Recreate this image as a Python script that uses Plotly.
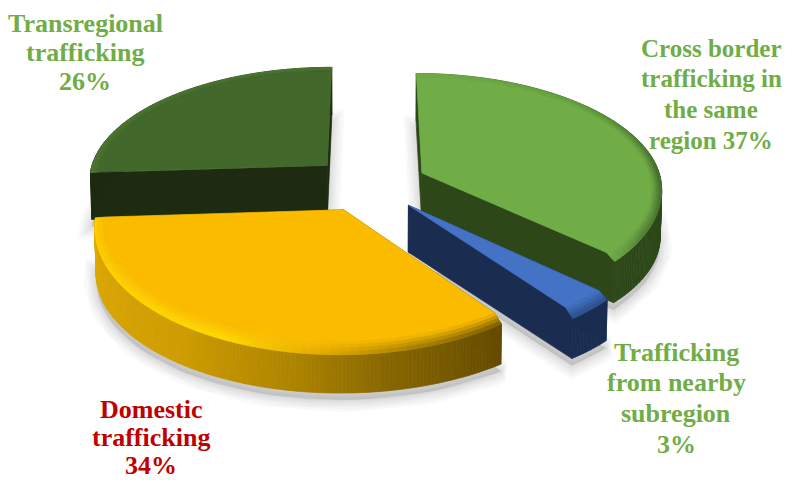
import math
import plotly.graph_objects as go

# Shares of trafficking flows, clockwise from twelve o'clock
categories = ["Cross border trafficking in the same region",
              "Trafficking from nearby subregion",
              "Domestic trafficking",
              "Transregional trafficking"]
shares = [37, 3, 34, 26]
label_lines = [["Cross border", "trafficking in", "the same", "region 37%"],
               ["Trafficking", "from nearby", "subregion", "3%"],
               ["Domestic", "trafficking", "34%"],
               ["Transregional", "trafficking", "26%"]]

# Slice colours: top face, cut faces, rim stops and bevel stops by angle
top_colours = ["#70AD47", "#4472C4", "#FBBC00", "#43682B"]
cut_colours = ["#2D4719", "#1A2C50", "#6B5000", "#1D2B11"]
rim_stops = [[(0, "#2D4719"), (360, "#2D4719")],
             [(0, "#1A2C50"), (360, "#1A2C50")],
             [(144, "#644A00"), (170, "#866600"), (190, "#AE8400"), (215, "#CE9C00"), (266, "#E0AA00")],
             [(0, "#1D2B11"), (360, "#1D2B11")]]
bevel_stops = [[(0, "#70AD47"), (45, "#659C3E"), (90, "#41662A"), (120, "#4C7A30"), (134, "#6FA846")],
               [(0, "#2C4F8C"), (360, "#2C4F8C")],
               [(144, "#725600"), (165, "#A07A00"), (185, "#E2AC00"), (205, "#FFDC00"), (235, "#FFD400"), (267, "#FFD000")],
               [(0, "#4E7832"), (360, "#4E7832")]]
label_colours = ["#70AD47", "#70AD47", "#C00000", "#70AD47"]
label_anchor = [(711, 48, 30.7), (676, 352, 30.7), (151, 409, 28), (85, 23, 29)]
label_sizes = [25, 26, 26, 26]

# Projection of the exploded disc
CX, CY = 369, 184
FX, FY = 240, 114
DEPTH = 0.12
EXPLODE = 0.243
THICK = 47
BASE_SHRINK = 0.995
BEVEL_R = 0.04
BEVEL_DROP = 8


def project(x, y, z=0.0):
    """World point to canvas pixels; z runs 0 (top face) to 1 (base)."""
    s = (1 + (BASE_SHRINK - 1) * z) / (1 - DEPTH * y)
    return CX + FX * x * s, CY + THICK * z + FY * y * s


def hex_rgb(h):
    return tuple(int(h[i:i + 2], 16) for i in (1, 3, 5))


def mix(a, b, t):
    ca, cb = hex_rgb(a), hex_rgb(b)
    return "#%02X%02X%02X" % tuple(round(p + (q - p) * t) for p, q in zip(ca, cb))


def ramp(stops, angle):
    if angle <= stops[0][0]:
        return stops[0][1]
    for (a0, c0), (a1, c1) in zip(stops, stops[1:]):
        if angle <= a1:
            return mix(c0, c1, (angle - a0) / (a1 - a0))
    return stops[-1][1]


def unit(angle):
    r = math.radians(angle)
    return math.sin(r), -math.cos(r)


fig = go.Figure()


def polygon(points, colour, line=None, width=0.7):
    xs = [p[0] for p in points] + [points[0][0]]
    ys = [p[1] for p in points] + [points[0][1]]
    fig.add_trace(go.Scatter(x=xs, y=ys, mode="lines", fill="toself", fillcolor=colour,
                             line=dict(color=line or colour, width=width),
                             hoverinfo="skip", showlegend=False))


total = sum(shares)
spans, start = [], 0.0
for value in shares:
    sweep = 360 * value / total
    spans.append((start, start + sweep))
    start += sweep

painter_order = [3, 0, 1, 2]


def apex_of(span):
    ux, uy = unit((span[0] + span[1]) / 2)
    return EXPLODE * ux, EXPLODE * uy


def arc_angles(span, pitch=2.0):
    steps = max(4, int((span[1] - span[0]) / pitch))
    return [span[0] + (span[1] - span[0]) * i / steps for i in range(steps + 1)]


# Soft ground shadow below every slice
for spread in (24, 19, 14, 10, 6, 2):
    for i in painter_order:
        ax, ay = apex_of(spans[i])
        outline = [project(ax, ay, 1)]
        for a in arc_angles(spans[i]):
            ux, uy = unit(a)
            outline.append(project(ax + ux, ay + uy, 1))
        outline = [(x, y + 7) for x, y in outline]
        polygon(outline, "rgba(90,90,90,0.035)", line="rgba(90,90,90,0.035)", width=spread)

for i in painter_order:
    a0, a1 = spans[i]
    ax, ay = apex_of(spans[i])
    angles = arc_angles(spans[i])
    inner = 1 - BEVEL_R

    def drop(uy):
        return BEVEL_DROP / THICK * max(0.0, uy)

    # Cut faces, closed up to the flat top so no gap opens along the bevel
    for edge in (a0, a1):
        ux, uy = unit(edge)
        polygon([project(ax, ay, 0), project(ax + inner * ux, ay + inner * uy, 0),
                 project(ax + ux, ay + uy, drop(uy)), project(ax + ux, ay + uy, 1),
                 project(ax, ay, 1)], cut_colours[i])

    # Outer rim, shaded along the arc in fine steps
    rim_angles = arc_angles(spans[i], pitch=0.8)
    for p, q in zip(rim_angles, rim_angles[1:]):
        px, py = unit(p)
        qx, qy = unit(q)
        polygon([project(ax + px, ay + py, drop(py)), project(ax + qx, ay + qy, drop(qy)),
                 project(ax + qx, ay + qy, 1), project(ax + px, ay + py, 1)],
                ramp(rim_stops[i], (p + q) / 2))

    # Flat top face
    face = [project(ax, ay, 0)]
    for a in angles:
        ux, uy = unit(a)
        face.append(project(ax + inner * ux, ay + inner * uy, 0))
    polygon(face, top_colours[i])

    # Rounded bevel between the top face and the rim
    bands = 4
    for b in range(bands):
        t0, t1 = b / bands, (b + 1) / bands
        r0, r1 = inner + BEVEL_R * t0, inner + BEVEL_R * t1
        for p, q in zip(angles, angles[1:]):
            px, py = unit(p)
            qx, qy = unit(q)
            colour = mix(top_colours[i], ramp(bevel_stops[i], (p + q) / 2), (t0 + t1) / 2)
            polygon([project(ax + r0 * px, ay + r0 * py, drop(py) * t0),
                     project(ax + r0 * qx, ay + r0 * qy, drop(qy) * t0),
                     project(ax + r1 * qx, ay + r1 * qy, drop(qy) * t1),
                     project(ax + r1 * px, ay + r1 * py, drop(py) * t1)], colour)

annotations = []
for lines, colour, (lx, ly, step), size in zip(label_lines, label_colours, label_anchor, label_sizes):
    for n, text in enumerate(lines):
        annotations.append(dict(x=lx, y=ly + n * step, text="<b>%s</b>" % text, showarrow=False,
                                xref="x", yref="y", xanchor="center", yanchor="middle",
                                font=dict(family="Liberation Serif", size=size, color=colour)))

fig.update_layout(width=795, height=480, margin=dict(l=0, r=0, t=0, b=0),
                  paper_bgcolor="white", plot_bgcolor="white",
                  xaxis=dict(range=[0, 795], visible=False, fixedrange=True),
                  yaxis=dict(range=[480, 0], visible=False, fixedrange=True),
                  showlegend=False, annotations=annotations)
fig.write_html("out.html", config=dict(displayModeBar=False))
